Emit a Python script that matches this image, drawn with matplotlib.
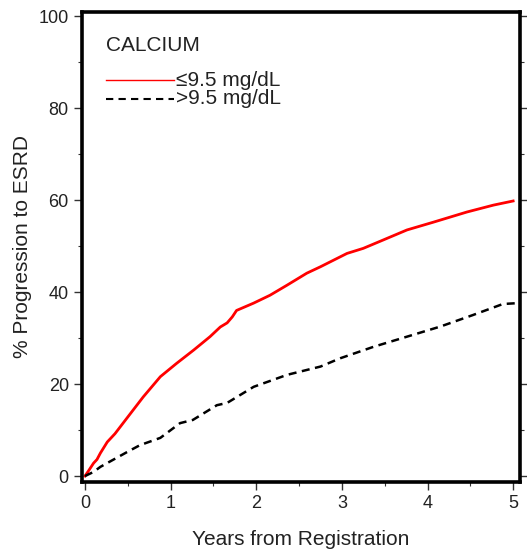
import numpy as np
import matplotlib
matplotlib.use('Agg')
import matplotlib.pyplot as plt
from matplotlib.ticker import MultipleLocator

plt.rcParams['font.family'] = ['Liberation Sans', 'DejaVu Sans']

# cumulative progression to ESRD (%) by serum calcium group
years_low = [0.0, 0.04, 0.10, 0.14, 0.18, 0.26, 0.35, 0.49, 0.68, 0.88, 1.07, 1.27, 1.46,
             1.58, 1.66, 1.72, 1.77, 1.97, 2.16, 2.36, 2.59, 2.75, 3.06, 3.25, 3.48, 3.76,
             4.07, 4.46, 4.77, 5.0]
pct_low = [0.0, 1.1, 2.8, 3.6, 5.0, 7.4, 9.2, 12.6, 17.2, 21.6, 24.5, 27.4, 30.3,
           32.4, 33.3, 34.6, 36.0, 37.6, 39.3, 41.5, 44.1, 45.5, 48.4, 49.5, 51.3, 53.5,
           55.2, 57.4, 58.9, 59.8]

years_high = [0.0, 0.10, 0.18, 0.49, 0.64, 0.88, 1.11, 1.26, 1.54, 1.66, 1.97, 2.36,
              2.75, 2.98, 3.37, 3.76, 4.15, 4.53, 4.88, 5.06]
pct_high = [0.0, 0.9, 2.0, 5.2, 6.7, 8.3, 11.5, 12.2, 15.4, 15.9, 19.4, 22.0,
            23.8, 25.6, 28.1, 30.3, 32.5, 35.0, 37.4, 37.6]

fig = plt.figure(figsize=(5.27, 5.55), dpi=100)
ax = fig.add_axes([0.1556, 0.1315, 0.8311, 0.847])

ax.plot(years_low, pct_low, color='#ff0000', lw=2.0, solid_joinstyle='round')
ax.plot(years_high, pct_high, color='black', lw=1.8, dashes=(3.2, 2.2))

ax.set_xlim(-0.035, 5.08)
ax.set_ylim(-1.3, 100.9)
ax.xaxis.set_major_locator(MultipleLocator(1))
ax.xaxis.set_minor_locator(MultipleLocator(0.5))
ax.yaxis.set_major_locator(MultipleLocator(20))
ax.yaxis.set_minor_locator(MultipleLocator(10))
ax.tick_params(which='both', direction='out', labelsize=13, right=True, top=False,
               color='#333333', labelcolor='#222222')
ax.tick_params(which='major', length=6, width=1.0)
ax.tick_params(which='minor', length=3, width=0.8)
for s in ax.spines.values():
    s.set_linewidth(2.6)

ax.set_xlabel('Years from Registration', fontsize=15, labelpad=13, color='#222222')
ax.set_ylabel('% Progression to ESRD', fontsize=15, labelpad=5, color='#222222')

# legend drawn by hand in axes coordinates
ax.text(0.055, 0.928, 'CALCIUM', transform=ax.transAxes, fontsize=15, va='center',
        color='#222222')
ax.plot([0.055, 0.21], [0.855, 0.855], transform=ax.transAxes, color='#ff0000', lw=1.0)
ax.plot([0.055, 0.21], [0.815, 0.815], transform=ax.transAxes, color='black', lw=1.5,
        dashes=(3.5, 2.5))
ax.text(0.215, 0.855, '≤9.5 mg/dL', transform=ax.transAxes, fontsize=15, va='center',
        color='#222222')
ax.text(0.215, 0.815, '>9.5 mg/dL', transform=ax.transAxes, fontsize=15, va='center',
        color='#222222')

fig.savefig('out.png', dpi=100)
